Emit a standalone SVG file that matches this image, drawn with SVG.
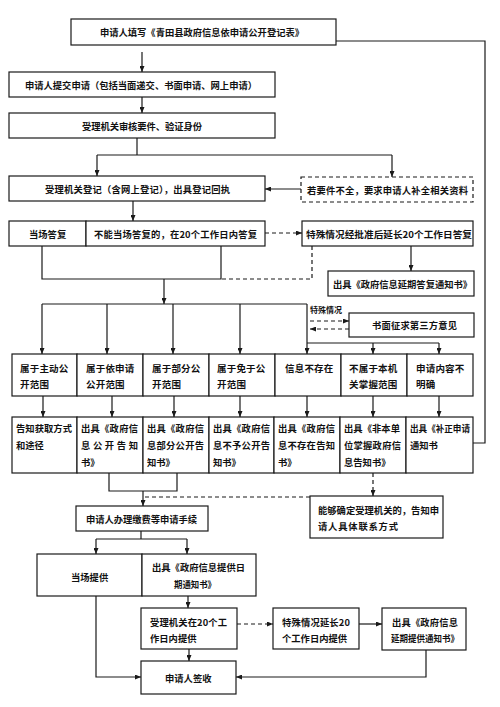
<svg xmlns="http://www.w3.org/2000/svg" width="500" height="707" viewBox="0 0 500 707">
<defs>
<marker id="ah" viewBox="0 0 10 10" refX="10" refY="5" markerWidth="6" markerHeight="5" markerUnits="userSpaceOnUse" orient="auto" preserveAspectRatio="none"><path d="M0,0 L10,5 L0,10 z" fill="#1a1a1a"/></marker>
<style>
rect{fill:#fff;stroke:#1a1a1a;stroke-width:1.2}
rect.d{stroke-dasharray:4 3}
text{font-family:"Noto Sans CJK SC","Noto Sans CJK JP",sans-serif;font-size:9.3px;fill:#111;dominant-baseline:central;font-weight:bold}
text.m{font-size:9.5px;letter-spacing:0.2px}
text.s{font-size:8px}
#connectors path,#connectors line,#connectors polyline{fill:none;stroke:#1a1a1a;stroke-width:1.2}
#connectors .d{stroke-dasharray:4 3}
#connectors .a{marker-end:url(#ah)}
</style>
</defs>
<rect x="0" y="0" width="500" height="707" style="fill:#fff;stroke:none"/>

<g id="connectors">
<polyline points="336,41 485,41 485,443 473,443"/>
<line class="a" x1="142" y1="52" x2="142" y2="72"/>
<line class="a" x1="142" y1="97" x2="142" y2="113"/>
<line x1="137" y1="138" x2="137" y2="155"/>
<line x1="97" y1="155" x2="392" y2="155"/>
<line class="a" x1="97" y1="155" x2="97" y2="176"/>
<line class="a" x1="392" y1="155" x2="392" y2="177"/>
<line class="a" x1="301" y1="189" x2="265" y2="189"/>
<line class="a" x1="133" y1="201" x2="133" y2="221"/>
<line class="a d" x1="265" y1="233" x2="302" y2="233"/>
<line class="a" x1="411" y1="246" x2="411" y2="271"/>
<polyline points="42,246 42,279 221,279 221,246"/>
<polyline class="d" points="312,246 312,279 221,279"/>
<line class="a" x1="164" y1="279" x2="164" y2="304"/>
<line x1="42" y1="304" x2="307" y2="304"/>
<line class="a" x1="42" y1="304" x2="42" y2="354"/>
<line class="a" x1="107" y1="304" x2="107" y2="354"/>
<line class="a" x1="173" y1="304" x2="173" y2="354"/>
<line class="a" x1="240" y1="304" x2="240" y2="354"/>
<line class="a" x1="307" y1="304" x2="307" y2="354"/>
<line x1="307" y1="343" x2="439" y2="343"/>
<line class="a" x1="373" y1="343" x2="373" y2="354"/>
<line class="a" x1="439" y1="343" x2="439" y2="354"/>
<line class="a d" x1="310" y1="321" x2="349" y2="321"/>
<line class="a d" x1="349" y1="329" x2="310" y2="329"/>
<line class="a" x1="43" y1="396" x2="43" y2="417"/>
<line class="a" x1="112" y1="396" x2="112" y2="417"/>
<line class="a" x1="174" y1="396" x2="174" y2="417"/>
<line class="a" x1="240" y1="396" x2="240" y2="417"/>
<line class="a" x1="307" y1="396" x2="307" y2="417"/>
<line class="a" x1="373" y1="396" x2="373" y2="417"/>
<line class="a" x1="439" y1="396" x2="439" y2="417"/>
<polyline points="109,473 109,491 177,491 177,473"/>
<line class="a" x1="143" y1="491" x2="143" y2="506"/>
<line class="a d" x1="373" y1="473" x2="373" y2="496"/>
<line class="d" x1="310" y1="497" x2="143" y2="497"/>
<line x1="141" y1="531" x2="141" y2="539"/>
<line x1="96" y1="539" x2="187" y2="539"/>
<line class="a" x1="96" y1="539" x2="96" y2="554"/>
<line class="a" x1="187" y1="539" x2="187" y2="554"/>
<line class="a" x1="188" y1="596" x2="188" y2="608"/>
<line class="a d" x1="237" y1="624" x2="273" y2="624"/>
<line class="a" x1="359" y1="624" x2="382" y2="624"/>
<line class="a" x1="189" y1="649" x2="189" y2="661"/>
<polyline class="a" points="426,650 426,677 236,677"/>
<polyline class="a" points="96,596 96,677 141,677"/>
</g>

<g id="n-fill"><rect x="71" y="19" width="265" height="26"/><text x="100" y="32" textLength="204">申请人填写《青田县政府信息依申请公开登记表》</text></g>
<g id="n-submit"><rect x="9" y="72" width="266" height="25"/><text x="25" y="84.5" textLength="232">申请人提交申请（包括当面递交、书面申请、网上申请）</text></g>
<g id="n-review"><rect x="9" y="113" width="266" height="25"/><text x="82" y="125.5" textLength="120">受理机关审核要件、验证身份</text></g>
<g id="n-register"><rect x="9" y="176" width="256" height="25"/><text x="45" y="188.5" textLength="185">受理机关登记（含网上登记），出具登记回执</text></g>
<g id="n-incomplete"><rect class="d" x="301" y="177" width="172" height="25"/><text x="307" y="189.5" textLength="161">若要件不全，要求申请人补全相关资料</text></g>
<g id="n-spot"><rect x="9" y="221" width="77" height="25"/><text x="29" y="233.5">当场答复</text></g>
<g id="n-20days"><rect x="86" y="221" width="179" height="25"/><text x="94" y="233.5" textLength="163">不能当场答复的，在20个工作日内答复</text></g>
<g id="n-extend"><rect x="302" y="221" width="171" height="25"/><text x="306" y="233.5" textLength="166" lengthAdjust="spacingAndGlyphs">特殊情况经批准后延长20个工作日答复</text></g>
<g id="n-delaynotice"><rect x="328" y="271" width="146" height="25"/><text x="333" y="283.5" textLength="139">出具《政府信息延期答复通知书》</text></g>
<g id="n-special"><text class="s" x="310" y="309">特殊情况</text></g>
<g id="n-third"><rect x="349" y="313" width="125" height="24"/><text x="372" y="325" textLength="85">书面征求第三方意见</text></g>

<g id="n-c1"><rect x="12" y="354" width="65" height="42"/><text class="m" x="20" y="368">属于主动公</text><text class="m" x="20" y="384">开范围</text></g>
<g id="n-c2"><rect x="77" y="354" width="66" height="42"/><text class="m" x="86" y="368">属于依申请</text><text class="m" x="86" y="384">公开范围</text></g>
<g id="n-c3"><rect x="143" y="354" width="66" height="42"/><text class="m" x="152" y="368">属于部分公</text><text class="m" x="152" y="384">开范围</text></g>
<g id="n-c4"><rect x="209" y="354" width="66" height="42"/><text class="m" x="217" y="368">属于免于公</text><text class="m" x="217" y="384">开范围</text></g>
<g id="n-c5"><rect x="275" y="354" width="66" height="42"/><text class="m" x="285" y="368">信息不存在</text></g>
<g id="n-c6"><rect x="341" y="354" width="66" height="42"/><text class="m" x="349" y="368">不属于本机</text><text class="m" x="349" y="384">关掌握范围</text></g>
<g id="n-c7"><rect x="407" y="354" width="66" height="42"/><text class="m" x="416" y="368">申请内容不</text><text class="m" x="416" y="384">明确</text></g>

<g id="n-r1"><rect x="12" y="417" width="65" height="56"/><text x="16" y="428" textLength="56">告知获取方式</text><text x="16" y="445">和途径</text></g>
<g id="n-r2"><rect x="77" y="417" width="66" height="56"/><text x="81" y="428" textLength="57">出具《政府信</text><text x="81" y="445" textLength="57">息公开告知</text><text x="81" y="462">书》</text></g>
<g id="n-r3"><rect x="143" y="417" width="66" height="56"/><text x="147" y="428" textLength="57">出具《政府信</text><text x="147" y="445" textLength="57">息部分公开告</text><text x="147" y="462">知书》</text></g>
<g id="n-r4"><rect x="209" y="417" width="65" height="56"/><text x="213" y="428" textLength="57">出具《政府信</text><text x="213" y="445" textLength="57">息不予公开告</text><text x="213" y="462">知书》</text></g>
<g id="n-r5"><rect x="274" y="417" width="66" height="56"/><text x="278" y="428" textLength="57">出具《政府信</text><text x="278" y="445" textLength="57">息不存在告知</text><text x="278" y="462">书》</text></g>
<g id="n-r6"><rect x="340" y="417" width="66" height="56"/><text x="344" y="428" textLength="56">出具《非本单</text><text x="344" y="445" textLength="57">位掌握政府信</text><text x="344" y="462">息告知书》</text></g>
<g id="n-r7"><rect x="406" y="417" width="67" height="56"/><text x="410" y="428" textLength="60" lengthAdjust="spacingAndGlyphs">出具《补正申请</text><text x="410" y="445">通知书</text></g>

<g id="n-contact"><rect x="310" y="496" width="133" height="42"/><text x="318" y="510" textLength="121">能够确定受理机关的，告知申</text><text x="318" y="526" textLength="80">请人具体联系方式</text></g>
<g id="n-fee"><rect x="76" y="506" width="132" height="25"/><text x="86" y="518.5" textLength="111">申请人办理缴费等申请手续</text></g>
<g id="n-provide"><rect x="37" y="554" width="105" height="42"/><text x="71" y="577">当场提供</text></g>
<g id="n-datenotice"><rect x="142" y="554" width="114" height="42"/><text x="152" y="567" textLength="93">出具《政府信息提供日</text><text x="174" y="584" textLength="42" lengthAdjust="spacingAndGlyphs">期通知书》</text></g>
<g id="n-in20"><rect x="141" y="608" width="96" height="41"/><text x="150" y="622" textLength="77">受理机关在20个工</text><text x="150" y="638">作日内提供</text></g>
<g id="n-ext20"><rect x="273" y="608" width="86" height="41"/><text x="282" y="622" textLength="68">特殊情况延长20</text><text x="282" y="638">个工作日内提供</text></g>
<g id="n-provdelay"><rect x="382" y="608" width="84" height="42"/><text x="392" y="622" textLength="66">出具《政府信息</text><text x="391" y="638" textLength="68" lengthAdjust="spacingAndGlyphs">延期提供通知书》</text></g>
<g id="n-sign"><rect x="141" y="661" width="95" height="33"/><text x="165" y="678">申请人签收</text></g>
</svg>
